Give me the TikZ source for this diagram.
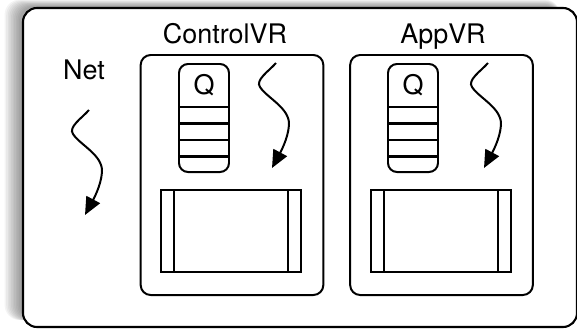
\documentclass[tikz,border=0pt]{standalone}
\usepackage{fontspec}
\setmainfont{TeX Gyre Heros}
\usepackage{tikz}
\usetikzlibrary{arrows.meta, positioning, calc}
\tikzset{vrbox/.style={rectangle, rounded corners=0.3cm,
minimum width=5.48cm,
minimum height=7.2cm,
draw=black}}
\tikzset{queue/.style={rectangle, rounded corners=0.27cm,
minimum width=1.5cm,
minimum height=3.24cm,
draw=black}}
\tikzset{window/.style={rectangle,
minimum width=4.2cm,
minimum height=2.46cm,
draw=black}}
\tikzset{slot/.style={draw=black, line width=1.8pt}}
\tikzset{flow/.style={line width=1.7pt,-{Triangle[length=15pt,width=13pt]}}}
\tikzset{squiggle/.pic={
\draw[flow] (0,0) .. controls (-7,8) and (-21,17) .. (-16,24)
 .. controls (-9,35) and (14,45) .. (13,62)
 .. controls (12,76) and (4,90) .. (-4,105);}}

\begin{document}
\begin{tikzpicture}[x=0.03cm, y=-0.03cm, line width=1.7pt,
every node/.style={font=\fontsize{23}{27}\selectfont}]

        \useasboundingbox (0,0) rectangle (577,328);

        % Schatten
        \foreach \s in {0,...,9}
            \fill[black, opacity=0.045, rounded corners=0.45cm]
                (19-1.6*\s, 6-0.7*\s) rectangle (560, 320);
        \draw[fill=white, line width=1.8pt, rounded corners=0.42cm] (23,8) rectangle (577,327);

        % Beschriftungen
        \node (netlbl) [anchor=base] at (84,79) {Net};
        \node (ctrllbl) [anchor=base] at (225,43) {ControlVR};
        \node (applbl) [anchor=base] at (443,43) {AppVR};

        % Kaesten
        \node (ctrl) [vrbox] at (232,175) {};
        \node (app) [vrbox] at (441.5,175) {};
        \node (ctrlq) [queue] at (204,118) {};
        \node (appq) [queue] at (413,118) {};
        \node (ctrlwin) [window] at (231,231) {};
        \node (appwin) [window] at (441,231) {};

        % Warteschlangen
        \foreach \q in {ctrlq, appq} {
            \node (\q lbl) at ([yshift=-0.66cm]\q.north) {Q};
            \foreach \f in {0.4, 0.55, 0.7, 0.85}
                \draw[slot] ($(\q.north west)!\f!(\q.south west)$) -- ($(\q.north east)!\f!(\q.south east)$);
        }

        % Fenster
        \foreach \w in {ctrlwin, appwin} {
            \draw[slot] ([xshift=0.42cm]\w.north west) -- ([xshift=0.42cm]\w.south west);
            \draw[slot] ([xshift=-0.42cm]\w.north east) -- ([xshift=-0.42cm]\w.south east);
        }

        % Threads
        \pic at (89,110) {squiggle};
        \pic at (276,63) {squiggle};
        \pic at (488,63) {squiggle};

    \end{tikzpicture}
\end{document}
